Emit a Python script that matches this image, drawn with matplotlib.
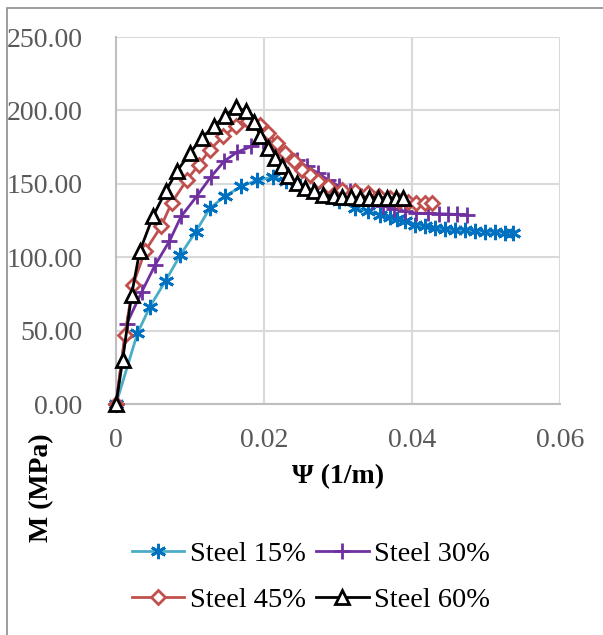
import matplotlib
matplotlib.use("Agg")
import matplotlib.pyplot as plt
from matplotlib.patches import Rectangle

# data
psi_15 = [0, 0.0029, 0.0046, 0.0067, 0.0087, 0.0108, 0.0127, 0.0147, 0.0169, 0.0190, 0.0212,
          0.0230, 0.0248, 0.0266, 0.0284, 0.0302, 0.0323, 0.0341, 0.0357, 0.0370, 0.0380,
          0.0391, 0.0404, 0.0418, 0.0431, 0.0445, 0.0458, 0.0472, 0.0485, 0.0499, 0.0512,
          0.0526, 0.0537]
m_15 = [0, 48.2, 66.4, 83.9, 101.6, 117.5, 133.5, 141.4, 148.2, 152.3, 154.6,
        152.0, 148.5, 145.0, 141.5, 138.0, 133.5, 131.2, 128.8, 127.5, 126.0,
        124.4, 122.1, 121.0, 119.8, 119.1, 118.7, 118.2, 118.0, 117.5, 117.3,
        116.8, 116.4]

psi_30 = [0, 0.00145, 0.0035, 0.0053, 0.0072, 0.0088, 0.0109, 0.0128, 0.0146, 0.0163, 0.0183,
          0.0199, 0.0214, 0.0229, 0.0244, 0.0258, 0.0273, 0.0287, 0.0301, 0.0316, 0.0331,
          0.0346, 0.0361, 0.0376, 0.0391, 0.0406, 0.0422, 0.0436, 0.0449, 0.0461, 0.0474]
m_30 = [0, 54.6, 76.6, 94.8, 110.7, 127.8, 141.4, 154.6, 165.3, 171.4, 175.5,
        178.9, 175.5, 170.5, 166.0, 161.8, 157.3, 152.5, 148.5, 145.0, 141.5,
        138.0, 135.0, 133.0, 131.2, 130.0, 129.8, 129.6, 129.4, 129.1, 128.9]

psi_45 = [0, 0.0012, 0.0023, 0.0039, 0.0061, 0.0075, 0.0096, 0.0112, 0.0127, 0.0145, 0.0162,
          0.0179, 0.0195, 0.0206, 0.0217, 0.0228, 0.0240, 0.0251, 0.0262, 0.0273, 0.0287,
          0.0305, 0.0323, 0.0341, 0.0356, 0.0370, 0.0383, 0.0395, 0.0406, 0.0418, 0.0427]
m_45 = [0, 47.1, 81.2, 103.9, 121.0, 136.9, 152.8, 163.0, 173.3, 182.3, 189.2,
        192.6, 190.3, 184.6, 177.8, 171.0, 165.3, 159.6, 156.2, 151.6, 148.2,
        146.0, 144.8, 143.7, 142.0, 140.0, 138.5, 137.5, 137.0, 136.8, 136.8]

psi_60 = [0, 0.0009, 0.0021, 0.0032, 0.0050, 0.0067, 0.0083, 0.0100, 0.0116, 0.0132, 0.0147,
          0.0162, 0.0175, 0.0187, 0.0195, 0.0206, 0.0215, 0.0224, 0.0233, 0.0244, 0.0255,
          0.0267, 0.0280, 0.0294, 0.0306, 0.0318, 0.0330, 0.0342, 0.0354, 0.0366, 0.0378,
          0.0388]
m_60 = [0, 30.0, 74.3, 104.0, 127.8, 144.8, 159.0, 171.0, 181.2, 189.1, 196.0,
        202.4, 199.4, 192.2, 182.5, 174.4, 167.6, 161.9, 155.1, 150.5, 147.1,
        144.8, 142.6, 141.4, 141.0, 140.8, 140.6, 140.5, 140.4, 140.4, 140.3,
        140.3]

x_ticks = [0, 0.02, 0.04, 0.06]
x_tick_labels = ["0", "0.02", "0.04", "0.06"]
y_ticks = [0, 50, 100, 150, 200, 250]
y_tick_labels = ["0.00", "50.00", "100.00", "150.00", "200.00", "250.00"]

plt.rcParams['font.family'] = ['Liberation Serif', 'DejaVu Serif']

W, H = 603, 635
fig = plt.figure(figsize=(W / 100, H / 100), dpi=100)
ax = fig.add_axes([116 / W, 1 - 404 / H, (560 - 116) / W, (404 - 37) / H])

# outer chart-area border
fig.patches.append(Rectangle((7 / W, -0.1), 1.2, 1 - 8 / H + 0.1, transform=fig.transFigure,
                             fill=False, edgecolor='#8c8c8c', linewidth=1.2))

l15, = ax.plot(psi_15, m_15, color='#4bacc6', linewidth=2, marker=(6, 2, 0), markersize=11,
               markeredgecolor='#0070c0', markeredgewidth=2, label='Steel 15%', zorder=3)
l30, = ax.plot(psi_30, m_30, color='#7030a0', linewidth=2, marker='+', markersize=11,
               markeredgewidth=2, label='Steel 30%', zorder=4)
l45, = ax.plot(psi_45, m_45, color='#c0504d', linewidth=2, marker='D', markersize=7.5,
               markerfacecolor='white', markeredgewidth=2, label='Steel 45%', zorder=5)
l60, = ax.plot(psi_60, m_60, color='black', linewidth=2, marker='^', markersize=10,
               markerfacecolor='white', markeredgewidth=2, label='Steel 60%', zorder=6)

ax.set_xlim(0, 0.06)
ax.set_ylim(0, 250)
ax.set_xticks(x_ticks)
ax.set_xticklabels(x_tick_labels)
ax.set_yticks(y_ticks)
ax.set_yticklabels(y_tick_labels)
ax.tick_params(axis='both', length=0, labelsize=20, labelcolor='#595959')
ax.tick_params(axis='x', pad=17)
ax.tick_params(axis='y', pad=24)
ax.grid(True, color='#d9d9d9', linewidth=1.5)
ax.set_axisbelow(True)
for side in ['top', 'right']:
    ax.spines[side].set_visible(False)
for side in ['left', 'bottom']:
    ax.spines[side].set_color('#bfbfbf')
    ax.spines[side].set_linewidth(1.5)
for m in ax.get_lines():
    m.set_clip_on(False)

fig.text(338 / W, 1 - 477 / H, 'Ψ (1/m)', ha='center', va='center', fontsize=20,
         fontweight='bold')
fig.text(42 / W, 1 - 488 / H, 'M (MPa)', ha='center', va='center', fontsize=20,
         fontweight='bold', rotation=90)

# legend fills column by column, so order gives rows 15/30 and 45/60
handles = [l15, l45, l30, l60]
fig.legend(handles, [h.get_label() for h in handles], loc='center',
           bbox_to_anchor=(311 / W, 1 - 577 / H), ncol=2, frameon=False,
           fontsize=20.5, handlelength=1.85, handletextpad=0.2, columnspacing=0.35,
           labelspacing=0.72, borderaxespad=0)

fig.savefig('out.png', dpi=100)
